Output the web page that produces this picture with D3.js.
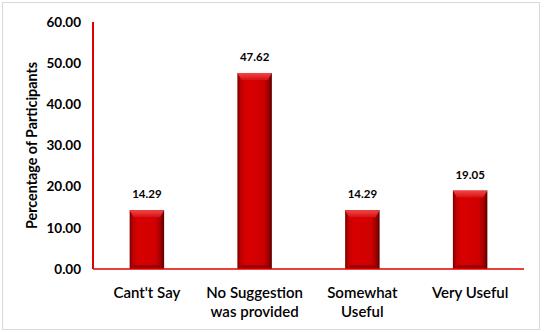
<!DOCTYPE html>
<html><head><meta charset="utf-8">
<script src="https://cdn.jsdelivr.net/npm/d3@7"></script>
<style>body{margin:0;background:#fff}svg{display:block}</style>
</head><body>
<script>
const categories = [["Cant't Say"], ["No Suggestion","was provided"], ["Somewhat","Useful"], ["Very Useful"]];
const values = [14.29, 47.62, 14.29, 19.05];
const yTicks = [0, 10, 20, 30, 40, 50, 60];
const yTitle = "Percentage of Participants";

const W = 544, H = 332;
const svg = d3.select("body").append("svg").attr("width", W).attr("height", H);
const defs = svg.append("defs");
const g1 = defs.append("linearGradient").attr("id","barH").attr("x1","0").attr("x2","1").attr("y1","0").attr("y2","0");
[[0,"#7a0000"],[0.1,"#c00000"],[0.25,"#d80000"],[0.75,"#d00000"],[0.9,"#a00000"],[1,"#5a0000"]].forEach(([o,c])=>g1.append("stop").attr("offset",o).attr("stop-color",c));
const g2 = defs.append("linearGradient").attr("id","barTop").attr("x1","0").attr("x2","0").attr("y1","0").attr("y2","1");
[[0,"#f04848"],[1,"#d81010"]].forEach(([o,c])=>g2.append("stop").attr("offset",o).attr("stop-color",c));

svg.append("rect").attr("x",2.5).attr("y",2.5).attr("width",537).attr("height",327).attr("fill","#fff").attr("stroke","#d9d9d9");

const m = {l:93, r:524, t:22, b:269};
const x = d3.scaleBand().domain(d3.range(categories.length)).range([m.l, m.r]).paddingInner(0.68).paddingOuter(0.34);
const y = d3.scaleLinear().domain([0,60]).range([m.b, m.t]);

// y tick labels
svg.append("g").selectAll("text").data(yTicks).join("text")
  .attr("x", 81).attr("y", d=>y(d)).attr("dy","0.35em").attr("text-anchor","end")
  .attr("font-family","Lato, sans-serif").attr("font-weight","bold").attr("font-size",13.5).attr("fill","#000")
  .text(d=>d.toFixed(2));

// y title
svg.append("text").attr("transform",`translate(37,${(m.t+m.b)/2}) rotate(-90)`).attr("text-anchor","middle")
  .attr("font-family","Lato, sans-serif").attr("font-weight","bold").attr("font-size",14.3).text(yTitle);

// bars
const bars = svg.append("g").selectAll("g").data(values).join("g");
bars.append("rect").attr("x",(d,i)=>x(i)).attr("y",d=>y(d)).attr("width",x.bandwidth()).attr("height",d=>y(0)-y(d)).attr("fill","url(#barH)");
bars.append("path").attr("d",(d,i)=>{const x0=x(i), w=x.bandwidth(), t=y(d), b=4, h=7;
  return `M${x0},${t}L${x0+w},${t}L${x0+w-b},${t+h}L${x0+b},${t+h}Z`;}).attr("fill","url(#barTop)");
bars.append("rect").attr("x",(d,i)=>x(i)+4).attr("y",d=>y(0)-4).attr("width",x.bandwidth()-8).attr("height",4).attr("fill","#8a0000").attr("opacity",0.7);

// value labels
svg.append("g").selectAll("text").data(values).join("text")
  .attr("x",(d,i)=>x(i)+x.bandwidth()/2).attr("y",d=>y(d)-12).attr("text-anchor","middle")
  .attr("font-family","Lato, sans-serif").attr("font-weight","bold").attr("font-size",11.5).text(d=>d.toFixed(2));

// axes lines
svg.append("line").attr("x1",m.l).attr("x2",m.l).attr("y1",m.t).attr("y2",m.b).attr("stroke","#e00000").attr("stroke-width",2);
svg.append("line").attr("x1",m.l).attr("x2",m.r).attr("y1",m.b).attr("y2",m.b).attr("stroke","#e00000").attr("stroke-width",1.5);

// category labels
const cl = svg.append("g").selectAll("g").data(categories).join("g");
cl.selectAll("text").data((d,i)=>d.map((s,j)=>({s,j,i}))).join("text")
  .attr("x",d=>x(d.i)+x.bandwidth()/2).attr("y",d=>298+d.j*19).attr("text-anchor","middle")
  .attr("font-family","Lato, sans-serif").attr("font-weight",600).attr("font-size",15).attr("fill","#000")
  .text(d=>d.s);
</script>
</body></html>
